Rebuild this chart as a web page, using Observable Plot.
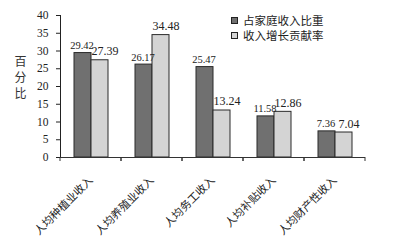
<!DOCTYPE html>
<html><head><meta charset="utf-8">
<script src="https://cdn.jsdelivr.net/npm/d3@7"></script>
<script src="https://cdn.jsdelivr.net/npm/@observablehq/plot@0.6"></script>
<style>
body{margin:0;background:#fff;}
#wrap{position:relative;width:399px;height:240px;overflow:hidden;background:#fff;}
#wrap svg{position:absolute;left:0;top:0;}
[aria-label^="fx-axis"] text{font-family:"Noto Sans CJK SC",sans-serif;font-size:11px;fill:#222;}
[aria-label^="y-axis"] text{font-family:"Liberation Serif",serif;font-size:11.5px;fill:#222;}
#ylab{position:absolute;left:14px;top:53px;width:13px;font-family:"Noto Sans CJK SC",sans-serif;font-size:12px;line-height:16px;color:#333;text-align:center;}
#legend{position:absolute;left:231px;top:13px;font-family:"Noto Sans CJK SC",sans-serif;font-size:11.5px;color:#222;line-height:15px;}
#legend div{display:flex;align-items:center;height:15px;line-height:15px;}
#legend span.tx{line-height:13px;display:inline-block;height:13px;}
#legend span.sw{display:inline-block;width:5px;height:5px;border:1px solid #222;margin-right:5px;}
</style></head><body><div id="wrap"></div>
<script>
const categories = ["人均种植业收入","人均养殖业收入","人均务工收入","人均补贴收入","人均财产性收入"];
const seriesNames = ["占家庭收入比重","收入增长贡献率"];
const shareValues = [29.42, 26.17, 25.47, 11.58, 7.36];
const contribValues = [27.39, 34.48, 13.24, 12.86, 7.04];
const yTicks = [0, 5, 10, 15, 20, 25, 30, 35, 40];
const yLabel = "百分比";
const colors = ["#707070", "#d4d4d4"];

const data = categories.flatMap((c, i) => [
  {category: c, series: seriesNames[0], value: shareValues[i]},
  {category: c, series: seriesNames[1], value: contribValues[i]}
]);
const dark = data.filter(d => d.series === seriesNames[0]);
const light = data.filter(d => d.series === seriesNames[1]);

const boundaryTicks = (index, scales, values, dims) => {
  const g = d3.create("svg:g").attr("stroke", "#333");
  const y0 = dims.height - dims.marginBottom;
  for (const x of [dims.marginLeft, dims.width - dims.marginRight]) {
    g.append("line").attr("x1", x).attr("x2", x).attr("y1", y0).attr("y2", y0 + 4);
  }
  return g.node();
};

const chart = Plot.plot({
  width: 399, height: 240,
  marginLeft: 59, marginRight: 33, marginTop: 15, marginBottom: 83,
  style: {fontFamily: "'Liberation Serif', serif", fontSize: "11px", background: "transparent", color: "#222"},
  fx: {domain: categories, padding: 0, tickRotate: -45, tickSize: 0, tickPadding: 21, label: null},
  x: {domain: seriesNames, paddingInner: 0, paddingOuter: 0.75, axis: null},
  y: {domain: [0, 40], ticks: yTicks, tickSize: 4, tickPadding: 8, label: null, line: true},
  color: {domain: seriesNames, range: colors},
  marks: [
    Plot.barY(data, {fx: "category", x: "series", y: "value", fill: "series", stroke: "#2a2a2a", strokeWidth: 1}),
    Plot.text(dark, {fx: "category", x: "series", y: "value", text: d => d.value.toFixed(2), lineAnchor: "bottom", dy: -4, dx: -1, fontSize: 10.5, fontFamily: "Liberation Serif", fill: "#222"}),
    Plot.text(light, {fx: "category", x: "series", y: "value", text: d => d.value.toFixed(2), lineAnchor: "bottom", dy: -5, dx: 5, fontSize: 12, fontFamily: "Liberation Serif", fill: "#222"}),
    Plot.ruleY([0], {stroke: "#333"}),
    boundaryTicks
  ]
});
const wrap = document.getElementById("wrap");
wrap.appendChild(chart);
const yl = document.createElement("div");
yl.id = "ylab";
yl.innerHTML = yLabel.split("").join("<br>");
wrap.appendChild(yl);
const lg = document.createElement("div");
lg.id = "legend";
seriesNames.forEach((s, i) => {
  const row = document.createElement("div");
  row.innerHTML = `<span class="sw" style="background:${colors[i]}"></span><span class="tx">${s}</span>`;
  lg.appendChild(row);
});
wrap.appendChild(lg);
</script></body></html>
